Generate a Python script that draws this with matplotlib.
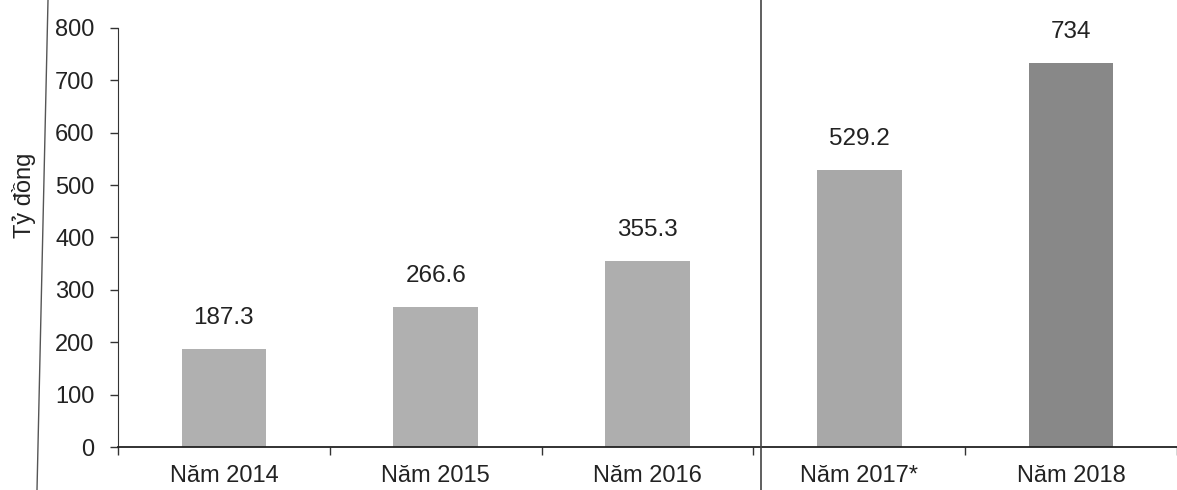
import numpy as np
import matplotlib
matplotlib.use('Agg')
import matplotlib.pyplot as plt
from matplotlib.lines import Line2D

categories = ['Năm 2014', 'Năm 2015', 'Năm 2016', 'Năm 2017*', 'Năm 2018']
values = [187.3, 266.6, 355.3, 529.2, 734]
value_labels = ['187.3', '266.6', '355.3', '529.2', '734']
bar_colors = ['#b0b0b0', '#b0b0b0', '#aeaeae', '#a8a8a8', '#888888']
yticks = [0, 100, 200, 300, 400, 500, 600, 700, 800]

plt.rcParams['font.family'] = ['Liberation Sans', 'DejaVu Sans']

fig = plt.figure(figsize=(11.77, 4.9), dpi=100)
W, H = 1177, 490
ax = fig.add_axes([118 / W, (H - 447) / H, (W - 118) / W, (447 - 28) / H])

x = np.arange(len(categories))
ax.bar(x, values, width=0.4, color=bar_colors, zorder=2)

for xi, v, lab in zip(x, values, value_labels):
    ax.annotate(lab, (xi, v), xytext=(0, 20), textcoords='offset pixels',
                ha='center', va='bottom', fontsize=17.5, color='#222222',
                annotation_clip=False)

ax.set_xlim(-0.5, 4.46)
ax.set_ylim(0, 800)
ax.set_yticks(yticks)
ax.set_yticklabels([str(t) for t in yticks], fontsize=17, color='#222222')

# ticks between categories, labels centred under bars
ax.set_xticks(np.arange(-0.5, len(categories), 1.0))
ax.set_xticklabels([])
ax.set_xticks(x, minor=True)
ax.set_xticklabels(categories, minor=True, fontsize=17, color='#222222')
ax.tick_params(axis='x', which='minor', length=0, pad=13)
ax.tick_params(axis='x', which='major', length=6, width=1, direction='out', color='#333333')
ax.tick_params(axis='y', length=6, width=1, direction='out', pad=11, color='#333333')

for s in ['top', 'right']:
    ax.spines[s].set_visible(False)
ax.spines['left'].set_color('#333333')
ax.spines['bottom'].set_color('#222222')
ax.spines['bottom'].set_linewidth(1.3)

ax.set_ylabel('Tỷ đồng', fontsize=17, color='#222222')
ax.yaxis.set_label_coords(-0.077, 0.6)

# page edges from the scan
fig.add_artist(Line2D([761 / W, 761 / W], [0, 1], transform=fig.transFigure,
                      color='#444444', linewidth=1.2))
fig.add_artist(Line2D([48 / W, 37 / W], [1, 0], transform=fig.transFigure,
                      color='#555555', linewidth=1.0))

fig.savefig('out.png', dpi=100)
